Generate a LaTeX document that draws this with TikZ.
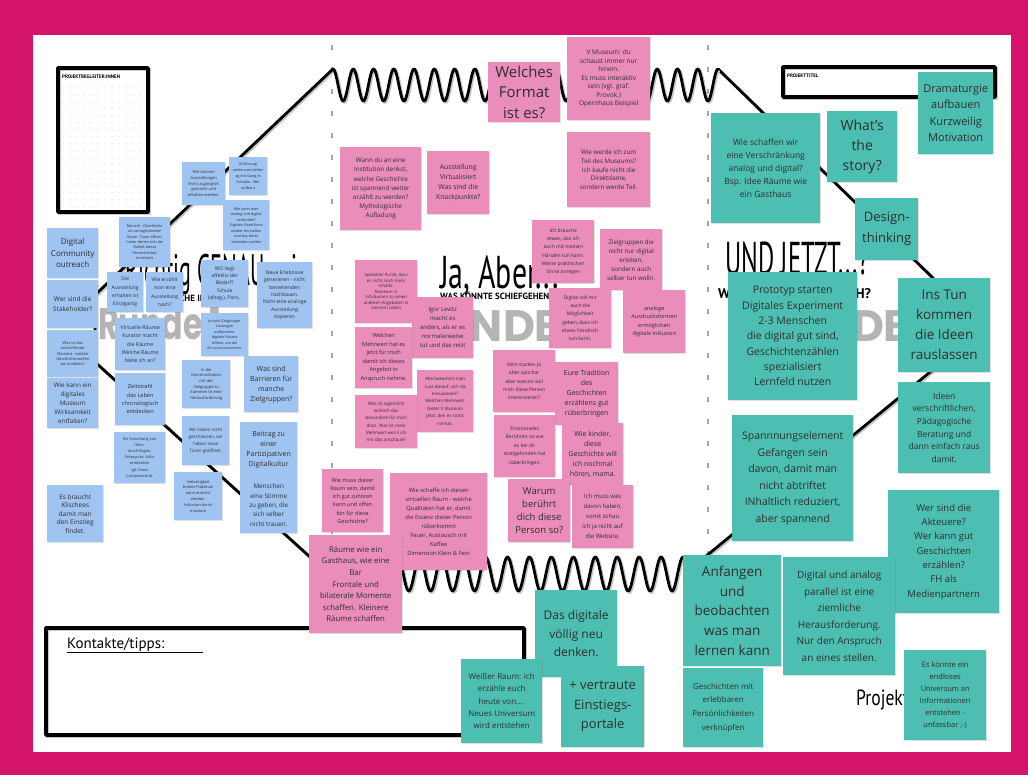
\documentclass[tikz,border=0pt]{standalone}
\usepackage{fontspec}
\setmainfont{Open Sans}
\newfontfamily\handfont{PT Sans}
\newfontfamily\roundfont{Poppins}
\usetikzlibrary{shadows}
\definecolor{frame}{HTML}{D4146C}
\definecolor{notebl}{HTML}{A0C4F2}
\definecolor{notepk}{HTML}{EA8DBA}
\definecolor{notetl}{HTML}{4DBFB2}
\definecolor{ink}{HTML}{2E2E2E}
\definecolor{roundgray}{HTML}{B4B4B4}

\begin{document}
\begin{tikzpicture}[x=1pt, y=-1pt,
	marker/.style={line width=2.8pt, black, line cap=round, line join=round,
		preaction={draw=gray!45, line width=3pt, transform canvas={shift={(1.3pt,-1.3pt)}}}},
	boxline/.style={marker, line width=3.6pt},
	sep/.style={gray!70, line width=1.2pt, dash pattern=on 5pt off 17pt},
	note/.style={anchor=north west, inner sep=0pt, align=center, text=ink,
		drop shadow={opacity=0.25, shadow xshift=1pt, shadow yshift=-1pt}},
	notesize/.style n args={3}{fill=#1, minimum width=#2pt, minimum height=#3pt},
	bl/.style 2 args={note, notesize={notebl}{#1}{#2}},
	pk/.style 2 args={note, notesize={notepk}{#1}{#2}},
	tl/.style 2 args={note, notesize={notetl}{#1}{#2}},
	fs/.style 2 args={font=\fontsize{#1}{#2}\selectfont},
	hand/.style={inner sep=0pt, anchor=base west, font=\handfont},
	runde/.style={inner sep=0pt, anchor=base west, text=roundgray,
		font=\roundfont\bfseries\fontsize{44}{44}\selectfont}]
	\useasboundingbox (0,0) rectangle (1028,775);
	\fill[frame] (0,0) rectangle (1028,775);
	\fill[white] (33,35) rectangle (1011,752);

	% frame of the board
	\draw[sep] (332,45) -- (332,620);
	\draw[sep] (708,45) -- (708,620);
	\draw[boxline] (58,68) rectangle (148,212);
	\foreach \i in {0,...,11}
		\foreach \j in {0,...,17}
			\fill[gray!55] ({63+7*\i},{88+7*\j}) circle (0.5pt);
	\node[hand, font=\handfont\bfseries\fontsize{5}{5}\selectfont] (begleiter) at (62,79) {PROJEKTBEGLEITER:INNEN};
	\draw[boxline] (783,67) rectangle (995,97);
	\node[hand, font=\handfont\bfseries\fontsize{5}{5}\selectfont] (titel) at (787,78) {PROJEKTTITEL};
	\draw[boxline] (46,628) rectangle (524,735);
	\node[hand, font=\handfont\fontsize{15}{15}\selectfont] (kontakte) at (67,648) {Kontakte/tipps:};
	\draw[line width=1pt] (kontakte.base west) ++(0,4) -- ++(136,0);
	\node[hand, font=\handfont\fontsize{22}{22}\selectfont, xscale=0.8] (projekt) at (856,705) {Projekt};

	% hexagon with the two springs
	\coordinate (hA) at (333,69);
	\coordinate (hB) at (95,295);
	\coordinate (hC) at (95,362);
	\coordinate (hD) at (310,557);
	\coordinate (hE) at (705,557);
	\coordinate (hF) at (935,368);
	\coordinate (hG) at (935,280);
	\coordinate (hH) at (718,69);
	\draw[marker] (hA) -- (hB) -- (hC) -- (hD);
	\draw[marker] (hE) -- (hF) -- (hG) -- (hH);
	\draw[marker] plot[domain=0:385, samples=500] ({333+\x},{85-16*cos(17.766*\x)});
	\draw[marker] plot[domain=0:395, samples=500] ({310+\x},{574-17*cos(16.405*\x)});

	% round headings
	\node[runde, xscale=0.72] (runde1) at (98,340) {Runde 1};
	\node[runde] (runde2) at (410,342) {RUNDE 2};
	\node[runde] (runde3) at (759,342) {RUNDE 3};
	\node[hand, font=\handfont\fontsize{44}{44}\selectfont, xscale=0.5] (wiegenau) at (125,286) {Richtig GENAU, wie};
	\node[hand, font=\handfont\bfseries\fontsize{9}{9}\selectfont] (wiegenausub) at (163,302) {WELCHE INHALTE?};
	\node[hand, font=\handfont\fontsize{46}{46}\selectfont, xscale=0.65] (jaaber) at (440,289) {Ja, Aber...};
	\node[hand, font=\handfont\bfseries\fontsize{9}{9}\selectfont] (jaabersub) at (440,300) {WAS KÖNNTE SCHIEFGEHEN?};
	\node[hand, font=\handfont\fontsize{46}{46}\selectfont, xscale=0.54] (undjetzt) at (725,275) {UND JETZT...?};
	\node[hand, font=\handfont\bfseries\fontsize{14}{14}\selectfont] (undjetztsub) at (718,299) {WAS BRAUCHT ES NOCH?};

	% blue notes
	\node[bl={51}{50}, fs={8}{11.7}] (b1) at (47,228) {Digital\\Community\\outreach};
	\node[bl={51}{48}, fs={6.5}{9.7}] (b2) at (47,280) {Wer sind die\\Stakeholder?};
	\node[bl={51}{47}, fs={3.9}{5.3}] (b3) at (47,330) {Was ist das\\sinnstiftende\\Element - welche\\Geschichte wollen\\wir erzählen?};
	\node[bl={51}{50}, fs={6.3}{8.8}] (b4) at (47,378) {Wie kann ein\\digitales\\Museum\\Wirksamkeit\\entfalten?};
	\node[bl={56}{57}, fs={6.5}{8.5}] (b5) at (47,485) {Es braucht\\Klischees\\damit man\\den Einstieg\\findet.};
	\node[bl={51}{50}, fs={3.7}{5.3}] (b6) at (119,217) {Mensch - Oberfläche\\als ermöglichender\\Raum. Türen öffnen\\hinter denen sich die\\Vielfalt dieser\\Persönlichkeit\\erschließt};
	\node[bl={36}{40}, fs={5}{8.3}] (b7) at (107,272) {Die\\Ausstellung\\erhalten ist\\Einzigartig};
	\node[bl={37}{40}, fs={5}{8.3}] (b8) at (146,272) {Wie erzählt\\man eine\\Ausstellung\\nach?};
	\node[bl={50}{52}, fs={5.3}{8.2}] (b9) at (115,318) {Virtuelle Räume\\Kurator macht\\die Räume\\Welche Räume\\biete ich an?};
	\node[bl={50}{52}, fs={5.6}{8.3}] (b10) at (115,373) {Zeitstrahl\\das Leben\\chronologisch\\entdecken};
	\node[bl={51}{51}, fs={3.9}{6.2}] (b11) at (114,432) {Ein Sammlung von\\Infos.\\durchfragen,\\Enterprise, Infos\\entdecken\\zgl Chaos\\Computerclub.};
	\node[bl={43}{43}, fs={4}{5.8}] (b12) at (182,162) {Wie können\\Ausstellungen\\leicht zugänglich\\gemacht und\\erhalten werden.};
	\node[bl={38}{38}, fs={3.8}{6}] (b13) at (229,157) {Erfahrung\\weiterzuerzählen\\zg mit Gang in\\Schulen. Wer\\aufbaut};
	\node[bl={46}{50}, fs={3.7}{5.5}] (b14) at (223,200) {Wie kann man\\analog und digital\\verbinden?\\Digitale Oberfläche\\wieder herstellen\\und das beste\\verbinden wollen};
	\node[bl={47}{47}, fs={5}{7.3}] (b15) at (201,260) {WO liegt\\affektiv der\\Bedarf?\\Schule\\(alltag.), Paris..};
	\node[bl={55}{66}, fs={5}{7.3}] (b16) at (257,262) {Neue Erlebnisse\\generieren - nicht\\bestehenden\\nachbauen.\\Nicht eine analoge\\Ausstellung\\kopieren};
	\node[bl={47}{43}, fs={3.7}{5.5}] (b17) at (201,313) {je nach Zielgruppe,\\Lösungen\\aufbereiten.\\digitale Räume\\öffnen, um die\\Art zu konsumieren.};
	\node[bl={48}{48}, fs={4}{5.6}] (b18) at (182,360) {In die\\Kommunikation\\mit der\\Zielgruppe zu\\kommen ist eine\\Herausforderung};
	\node[bl={54}{56}, fs={7}{10}] (b19) at (244,356) {Was sind\\Barrieren für\\manche\\Zielgruppen?};
	\node[bl={47}{49}, fs={4.5}{7}] (b20) at (182,416) {Wir haben nicht\\geschlossen, wir\\haben neue\\Türen geöffnet.};
	\node[bl={57}{55}, fs={7}{10}] (b21) at (240,422) {Beitrag zu\\einer\\Partizipativen\\Digitalkultur};
	\node[bl={57}{56}, fs={6.3}{9.3}] (b22) at (240,477) {Menschen\\eine Stimme\\zu geben, die\\sich selber\\nicht trauen.};
	\node[bl={48}{48}, fs={3.9}{5.8}] (b23) at (174,472) {Vielseitigkeit\\breites Publikum\\kann erreicht\\werden.\\Inklusion durch\\museum};

	% pink notes
	\node[pk={72}{60}, fs={15}{20.5}] (p1) at (488,62) {Welches\\Format\\ist es?};
	\node[pk={83}{83}, fs={6.5}{8.5}] (p2) at (567,37) {V Museum: du\\schaust immer nur\\hinein.\\Es muss interaktiv\\sein (vgl. graf.\\Provok.)\\Opernhaus Beispiel};
	\node[pk={81}{83}, fs={6.3}{9.2}] (p3) at (340,147) {Wann du an eine\\Institution denkst,\\welche Geschichte\\ist spannend weiter\\erzählt zu werden?\\Mythologische\\Aufladung};
	\node[pk={62}{63}, fs={6.8}{10.2}] (p4) at (427,151) {Ausstellung\\Virtualisiert\\Was sind die\\Knackpunkte?};
	\node[pk={83}{75}, fs={6.3}{8.8}] (p5) at (567,132) {Wie werde ich zum\\Teil des Museums?\\Ich kaufe nicht die\\Direktdame,\\sondern werde Teil.};
	\node[pk={62}{63}, fs={5}{8.3}] (p6) at (532,220) {Ich brauche\\etwas, das ich\\auch mit meinen\\Händen tun kann.\\Meine praktischen\\Sinne anregen};
	\node[pk={62}{61}, fs={6.2}{9}] (p7) at (600,229) {Zielgruppen die\\nicht nur digital\\erleben,\\sondern auch\\selber tun wolln.};
	\node[pk={62}{60}, fs={5}{8.3}] (p8) at (549,288) {Digital soll mir\\auch die\\Möglichkeit\\geben, dass ich\\etwas händisch\\tun kann.};
	\node[pk={62}{63}, fs={5.5}{8.3}] (p9) at (623,290) {analoge\\Ausdrucksformen\\ermöglichen\\digitale Inklusion};
	\node[pk={62}{63}, fs={4.3}{5.5}] (p10) at (355,260) {Spezieller Punkt, dass\\es nicht noch mehr\\Inhalte.\\Museum in\\Schräumen zu vielen\\anderen Angeboten in\\meinem Leben};
	\node[pk={61}{61}, fs={6}{9}] (p11) at (412,297) {Igor Levitz\\macht es\\anders, als er es\\normalerweise\\tut und das reizt};
	\node[pk={57}{61}, fs={5.6}{8.5}] (p12) at (355,327) {Welchen\\Mehrwert hat es\\jetzt für mich\\damit ich dieses\\Angebot in\\Anspruch nehme.};
	\node[pk={56}{62}, fs={4.5}{7.4}] (p13) at (417,370) {Wie bekommt man\\Lust darauf, sich da\\einzulassen?\\Welchen Mehrwert\\bietet V Museum\\jetzt, den es sonst\\nie hat.};
	\node[pk={62}{53}, fs={4.5}{7.3}] (p14) at (355,395) {Was ist eigentlich\\wirklich das\\besondere für mich\\dran. Was ist mein\\Mehrwert wenn ich\\mir das anschaue?};
	\node[pk={62}{62}, fs={5}{8.3}] (p15) at (493,350) {Kein starkes Ja\\aber spürbar\\aber warum soll\\mich diese Person\\interessieren?};
	\node[pk={63}{63}, fs={7}{10}] (p16) at (555,362) {Eure Tradition\\des\\Geschichten\\erzählens gut\\rüberbringen};
	\node[pk={61}{62}, fs={5}{8.5}] (p17) at (494,415) {Emotionales\\Berühren so wie\\es bei dir\\stattgefunden hat\\rüberbringen.};
	\node[pk={61}{62}, fs={7}{10}] (p18) at (562,423) {Wie kinder,\\diese\\Geschichte will\\ich nochmal\\hören, mama.};
	\node[pk={62}{63}, fs={9.5}{13.3}] (p19) at (508,479) {Warum\\berührt\\dich diese\\Person so?};
	\node[pk={61}{63}, fs={6}{10}] (p20) at (572,485) {Ich muss was\\davon haben,\\sonst schau\\ich ja nicht auf\\die Website.};
	\node[pk={61}{63}, fs={5.5}{8.3}] (p21) at (322,469) {Wie muss dieser\\Raum sein, damit\\ich gut zuhören\\kann und offen\\bin für diese\\Geschichte?};
	\node[pk={97}{97}, fs={5.8}{9}] (p22) at (390,473) {Wie schaffe ich diesen\\virtuellen Raum - welche\\Qualitäten hat er, damit\\die Essenz dieser Person\\rüberkommt\\Feuer, Austausch mit\\Kaffee\\Dimension Klein \& Fein};
	\node[pk={93}{98}, fs={7.8}{11.6}] (p23) at (309,535) {Räume wie ein\\Gasthaus, wie eine\\Bar\\Frontale und\\bilaterale Momente\\schaffen. Kleinere\\Räume schaffen};

	% teal notes
	\node[tl={109}{110}, fs={8.5}{13}] (t1) at (711,113) {Wie schaffen wir\\eine Verschränkung\\analog und digital?\\Bsp. Idee Räume wie\\ein Gasthaus};
	\node[tl={70}{71}, fs={14}{20}] (t2) at (827,111) {What's\\the\\story?};
	\node[tl={75}{82}, fs={11}{16.5}] (t3) at (918,72) {Dramaturgie\\aufbauen\\Kurzweilig\\Motivation};
	\node[tl={63}{62}, fs={13}{21}] (t4) at (855,198) {Design-\\thinking};
	\node[tl={129}{128}, fs={10.5}{15.3}] (t5) at (728,272) {Prototyp starten\\Digitales Experiment\\2-3 Menschen\\die digital gut sind,\\Geschichtenzählen\\spezialisiert\\Lernfeld nutzen};
	\node[tl={92}{94}, fs={13.5}{20}] (t6) at (898,278) {Ins Tun\\kommen\\die Ideen\\rauslassen};
	\node[tl={92}{91}, fs={8.5}{12.7}] (t7) at (898,382) {Ideen\\verschriftlichen,\\Pädagogische\\Beratung und\\dann einfach raus\\damit.};
	\node[tl={121}{126}, fs={10.5}{16.5}] (t8) at (732,415) {Spannnungselement\\Gefangen sein\\davon, damit man\\nicht abtriftet\\INhaltlich reduziert,\\aber spannend};
	\node[tl={111}{123}, fs={9.5}{14.3}] (t9) at (888,490) {Wer sind die\\Akteuere?\\Wer kann gut\\Geschichten\\erzählen?\\FH als\\Medienpartnern};
	\node[tl={98}{111}, fs={13.5}{19.6}] (t10) at (683,555) {Anfangen\\und\\beobachten\\was man\\lernen kann};
	\node[tl={112}{118}, fs={10}{16.5}] (t11) at (783,557) {Digital und analog\\parallel ist eine\\ziemliche\\Herausforderung.\\Nur den Anspruch\\an eines stellen.};
	\node[tl={82}{90}, fs={7.5}{12}] (t12) at (904,650) {Es könnte ein\\endloses\\Universum an\\Informationen\\entstehen -\\unfassbar ;-)};
	\node[tl={80}{79}, fs={8}{13.6}] (t13) at (683,668) {Geschichten mit\\erlebbaren\\Persönlichkeiten\\verknüpfen};
	\node[tl={82}{87}, fs={12}{18.5}] (t14) at (535,590) {Das digitale\\völlig neu\\denken.};
	\node[tl={81}{84}, fs={8}{12.3}] (t15) at (461,659) {Weißer Raum: ich\\erzähle euch\\heute von....\\Neues Universum\\wird entstehen};
	\node[tl={83}{81}, fs={13}{19.5}] (t16) at (561,666) {+ vertraute\\Einstiegs-\\portale};
\end{tikzpicture}
\end{document}
